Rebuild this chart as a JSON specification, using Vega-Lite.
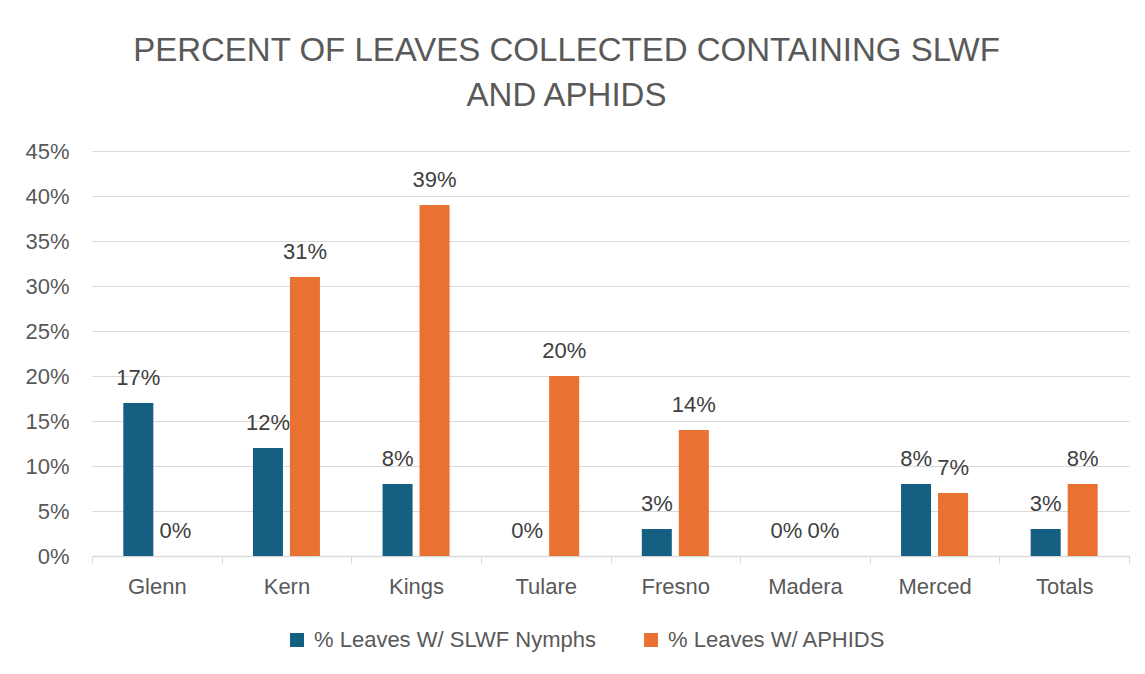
{
  "$schema": "https://vega.github.io/schema/vega-lite/v6.json",
  "width": 1037,
  "height": 405,
  "autosize": {"type": "none"},
  "padding": {"left": 92, "top": 151, "right": 16, "bottom": 118},
  "background": "white",
  "config": {
    "font": "Liberation Sans",
    "view": {"stroke": null}
  },
  "title": {
    "text": ["PERCENT OF LEAVES COLLECTED CONTAINING SLWF", "AND APHIDS"],
    "fontSize": 33,
    "fontWeight": "normal",
    "font": "Liberation Sans",
    "color": "#595959",
    "anchor": "middle",
    "frame": "group",
    "dx": -44,
    "lineHeight": 45,
    "offset": 27
  },
  "data": {
    "values": [
      {"county": "Glenn", "series": "% Leaves W/ SLWF Nymphs", "value": 0.17},
      {"county": "Glenn", "series": "% Leaves W/ APHIDS", "value": 0.0},
      {"county": "Kern", "series": "% Leaves W/ SLWF Nymphs", "value": 0.12},
      {"county": "Kern", "series": "% Leaves W/ APHIDS", "value": 0.31},
      {"county": "Kings", "series": "% Leaves W/ SLWF Nymphs", "value": 0.08},
      {"county": "Kings", "series": "% Leaves W/ APHIDS", "value": 0.39},
      {"county": "Tulare", "series": "% Leaves W/ SLWF Nymphs", "value": 0.0},
      {"county": "Tulare", "series": "% Leaves W/ APHIDS", "value": 0.20},
      {"county": "Fresno", "series": "% Leaves W/ SLWF Nymphs", "value": 0.03},
      {"county": "Fresno", "series": "% Leaves W/ APHIDS", "value": 0.14},
      {"county": "Madera", "series": "% Leaves W/ SLWF Nymphs", "value": 0.0},
      {"county": "Madera", "series": "% Leaves W/ APHIDS", "value": 0.0},
      {"county": "Merced", "series": "% Leaves W/ SLWF Nymphs", "value": 0.08},
      {"county": "Merced", "series": "% Leaves W/ APHIDS", "value": 0.07},
      {"county": "Totals", "series": "% Leaves W/ SLWF Nymphs", "value": 0.03},
      {"county": "Totals", "series": "% Leaves W/ APHIDS", "value": 0.08}
    ]
  },
  "encoding": {
    "x": {
      "field": "county",
      "type": "nominal",
      "sort": null,
      "scale": {"paddingInner": 0, "paddingOuter": 0},
      "axis": {
        "title": null,
        "labelAngle": 0,
        "labelFontSize": 22,
        "labelColor": "#595959",
        "labelPadding": 13,
        "tickBand": "extent",
        "tickSize": 7,
        "tickColor": "#d9d9d9",
        "domainColor": "#d9d9d9",
        "domainWidth": 1.5,
        "grid": false
      }
    },
    "xOffset": {
      "field": "series",
      "type": "nominal",
      "sort": ["% Leaves W/ SLWF Nymphs", "% Leaves W/ APHIDS"],
      "scale": {"paddingInner": 0.189, "paddingOuter": 0.846}
    },
    "y": {
      "field": "value",
      "type": "quantitative",
      "scale": {"domain": [0, 0.45]},
      "axis": {
        "title": null,
        "values": [0, 0.05, 0.1, 0.15, 0.2, 0.25, 0.3, 0.35, 0.4, 0.45],
        "format": ".0%",
        "labelFontSize": 22,
        "labelColor": "#595959",
        "labelPadding": 23,
        "ticks": false,
        "domain": false,
        "gridColor": "#d9d9d9",
        "gridWidth": 1.2
      }
    }
  },
  "layer": [
    {
      "mark": {"type": "bar"},
      "encoding": {
        "color": {
          "field": "series",
          "type": "nominal",
          "scale": {
            "domain": ["% Leaves W/ SLWF Nymphs", "% Leaves W/ APHIDS"],
            "range": ["#156082", "#E97132"]
          },
          "legend": {
            "title": null,
            "orient": "none",
            "direction": "horizontal",
            "legendX": 194,
            "legendY": 478,
            "symbolType": "square",
            "symbolSize": 196,
            "symbolStrokeWidth": 0,
            "symbolOpacity": 1,
            "labelFontSize": 22,
            "labelLimit": 500,
            "labelColor": "#595959",
            "labelOffset": 6,
            "columnPadding": 44
          }
        }
      }
    },
    {
      "mark": {"type": "text", "baseline": "alphabetic", "dy": -18, "fontSize": 22, "color": "#404040"},
      "encoding": {
        "text": {"field": "value", "type": "quantitative", "format": ".0%"}
      }
    }
  ]
}
